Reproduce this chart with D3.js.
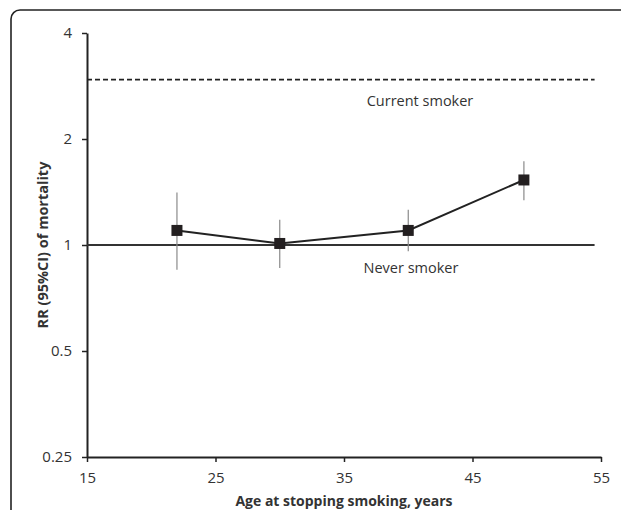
<!DOCTYPE html>
<html>
<head>
<meta charset="utf-8">
<script src="https://cdn.jsdelivr.net/npm/d3@7"></script>
<style>
  html, body { margin: 0; padding: 0; background: #fff; }
  svg { display: block; }
  text { font-family: "Open Sans", Lato, sans-serif; fill: #333; }
</style>
</head>
<body>
<svg id="chart" width="621" height="510"></svg>
<script>
// ---- data ----
const ages = [22, 30, 40, 49];
const rr = [1.10, 1.01, 1.10, 1.53];
const ciLow = [0.85, 0.86, 0.96, 1.34];
const ciHigh = [1.41, 1.18, 1.26, 1.73];
const currentSmokerRR = 2.95;
const neverSmokerRR = 1;
const refLineEnd = 54.5;
const xTicks = [15, 25, 35, 45, 55];
const yTicks = [0.25, 0.5, 1, 2, 4];
const yTickLabels = ["0.25", "0.5", "1", "2", "4"];
const xLabel = "Age at stopping smoking, years";
const yLabel = "RR (95%CI) of mortality";
const currentLabel = "Current smoker";
const neverLabel = "Never smoker";

// ---- layout ----
const svg = d3.select("#chart");
const x = d3.scaleLinear().domain([15, 55]).range([87, 601]);
const y = d3.scaleLog().base(2).domain([0.25, 4]).range([457, 33]);

// frame
svg.append("rect")
  .attr("x", 11).attr("y", 10)
  .attr("width", 640).attr("height", 540)
  .attr("rx", 9).attr("ry", 9)
  .attr("fill", "none").attr("stroke", "#222").attr("stroke-width", 1.6);

// axes
const xAxis = d3.axisBottom(x).tickValues(xTicks).tickSize(5).tickSizeOuter(0).tickPadding(10)
  .tickFormat(d3.format("d"));
const gx = svg.append("g").attr("transform", `translate(0,${y(0.25)})`).call(xAxis);
gx.select(".domain").attr("stroke", "#222").attr("stroke-width", 2);
gx.selectAll(".tick line").attr("stroke", "#222").attr("stroke-width", 1.5);
gx.selectAll(".tick text").style("font-size", "15px").attr("fill", "#333")
  .style("font-family", "'Open Sans', sans-serif");

const yAxis = d3.axisLeft(y).tickValues(yTicks).tickSize(5).tickSizeOuter(0).tickPadding(10)
  .tickFormat((d, i) => yTickLabels[i]);
const gy = svg.append("g").attr("transform", `translate(${x(15)},0)`).call(yAxis);
gy.select(".domain").attr("stroke", "#222").attr("stroke-width", 2);
gy.selectAll(".tick line").attr("stroke", "#222").attr("stroke-width", 1.5);
gy.selectAll(".tick text").style("font-size", "15px").attr("fill", "#333")
  .style("font-family", "'Open Sans', sans-serif");

// reference lines
svg.append("line")
  .attr("x1", x(15)).attr("x2", x(refLineEnd))
  .attr("y1", y(currentSmokerRR)).attr("y2", y(currentSmokerRR))
  .attr("stroke", "#222").attr("stroke-width", 1.8).attr("stroke-dasharray", "5,3");
svg.append("line")
  .attr("x1", x(15)).attr("x2", x(refLineEnd))
  .attr("y1", y(neverSmokerRR)).attr("y2", y(neverSmokerRR))
  .attr("stroke", "#333").attr("stroke-width", 1.8);

svg.append("text").attr("x", 420).attr("y", y(currentSmokerRR) + 26)
  .attr("text-anchor", "middle").style("font-size", "14.5px").text(currentLabel);
svg.append("text").attr("x", 411).attr("y", y(neverSmokerRR) + 28)
  .attr("text-anchor", "middle").style("font-size", "14.5px").text(neverLabel);

// error bars
const data = ages.map((a, i) => ({ a, v: rr[i], lo: ciLow[i], hi: ciHigh[i] }));
svg.append("g").selectAll("line").data(data).join("line")
  .attr("x1", d => x(d.a)).attr("x2", d => x(d.a))
  .attr("y1", d => y(d.lo)).attr("y2", d => y(d.hi))
  .attr("stroke", "#8a8a8a").attr("stroke-width", 1.2);

// line
svg.append("path").datum(data)
  .attr("d", d3.line().x(d => x(d.a)).y(d => y(d.v)))
  .attr("fill", "none").attr("stroke", "#222").attr("stroke-width", 2);

// markers
const s = 11;
svg.append("g").selectAll("rect").data(data).join("rect")
  .attr("x", d => x(d.a) - s / 2).attr("y", d => y(d.v) - s / 2)
  .attr("width", s).attr("height", s).attr("fill", "#231f20");

// axis labels
svg.append("text").attr("x", 344).attr("y", 506)
  .attr("text-anchor", "middle").style("font-size", "14px").style("font-weight", "bold")
  .text(xLabel);
svg.append("text")
  .attr("transform", `translate(48,${(y(0.25) + y(4)) / 2}) rotate(-90)`)
  .attr("text-anchor", "middle").style("font-size", "14.5px").style("font-weight", "bold")
  .text(yLabel);
</script>
</body>
</html>
